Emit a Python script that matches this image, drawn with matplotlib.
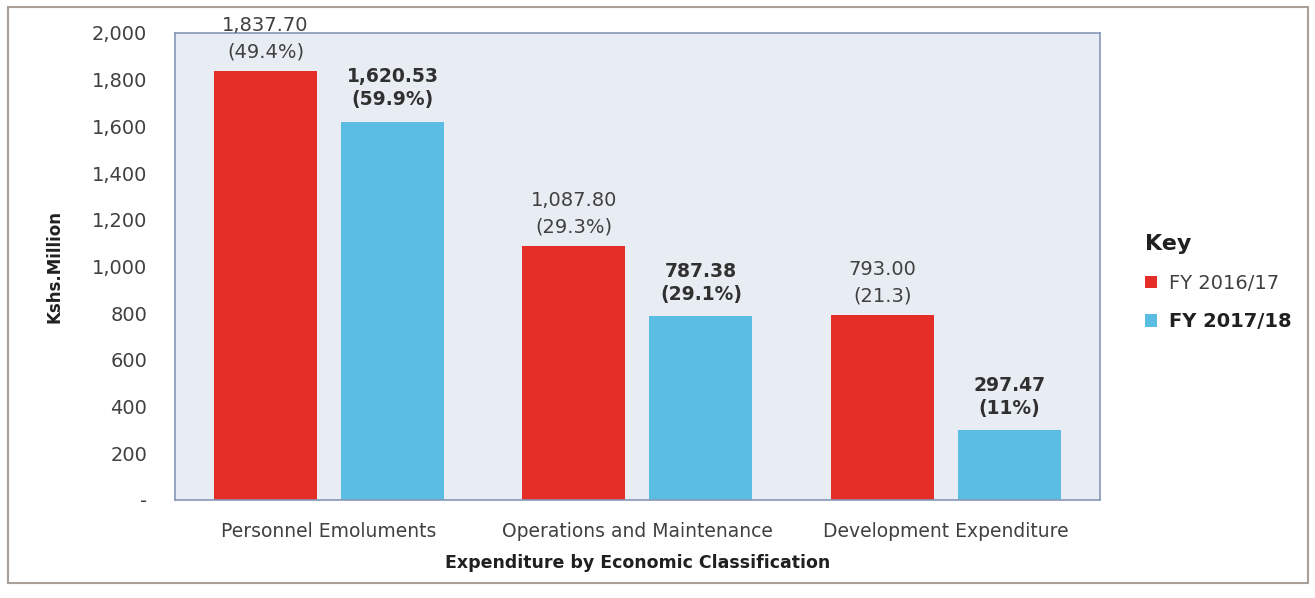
import numpy as np
import matplotlib.pyplot as plt
from matplotlib.patches import Rectangle

categories = ['Personnel Emoluments', 'Operations and Maintenance', 'Development Expenditure']
fy1617 = [1837.70, 1087.80, 793.00]
fy1718 = [1620.53, 787.38, 297.47]
labels_1617 = ['1,837.70\n(49.4%)', '1,087.80\n(29.3%)', '793.00\n(21.3)']
labels_1718 = ['1,620.53\n(59.9%)', '787.38\n(29.1%)', '297.47\n(11%)']
yticks = [0, 200, 400, 600, 800, 1000, 1200, 1400, 1600, 1800, 2000]
ytick_labels = ['-', '200', '400', '600', '800', '1,000', '1,200', '1,400', '1,600', '1,800', '2,000']

red = '#e52d27'
blue = '#5bbde3'
txt = '#404040'
plt.rcParams['font.family'] = ['DejaVu Sans']

fig = plt.figure(figsize=(13.15, 5.98), dpi=100)
ax = fig.add_axes([0.133, 0.164, 0.7035, 0.781])
ax.set_facecolor('#e8edf4')

x = np.arange(len(categories))
w = 0.334
off = 0.206
ax.bar(x - off, fy1617, w, color=red, label='FY 2016/17', zorder=2)
ax.bar(x + off, fy1718, w, color=blue, label='FY 2017/18', zorder=2)

for i in range(len(categories)):
    ax.annotate(labels_1617[i], (x[i] - off, fy1617[i]), xytext=(0, 7),
                textcoords='offset points', ha='center', va='bottom',
                fontsize=14, color=txt, linespacing=1.5)
    ax.annotate(labels_1718[i], (x[i] + off, fy1718[i]), xytext=(0, 9),
                textcoords='offset points', ha='center', va='bottom',
                fontsize=13.5, color='#303030', fontweight='bold', linespacing=1.25)

ax.set_xlim(-0.5, 2.5)
ax.set_ylim(0, 2000)
ax.set_yticks(yticks)
ax.set_yticklabels(ytick_labels, fontsize=14, color=txt)
ax.set_xticks(x)
ax.set_xticklabels(categories, fontsize=13.5, color=txt)
ax.tick_params(length=0)
ax.tick_params(axis='y', pad=20)
ax.tick_params(axis='x', pad=16)
for s in ax.spines.values():
    s.set_color('#8797b8')
    s.set_linewidth(1.2)

ax.set_ylabel('Kshs.Million', fontsize=12, fontweight='bold', color='#202020', labelpad=20)
ax.set_xlabel('Expenditure by Economic Classification', fontsize=12.5, fontweight='bold',
              color='#202020', labelpad=9)

leg = ax.legend(loc='center left', bbox_to_anchor=(1.03, 0.465), frameon=False,
                title='Key', fontsize=14, handlelength=0.6, handleheight=0.6,
                labelspacing=1.0, handletextpad=0.6, labelcolor=txt)
leg.get_title().set_fontsize(16)
leg.get_title().set_fontweight('bold')
leg.get_title().set_color('#202020')
leg._legend_box.align = 'left'
leg.get_texts()[1].set_fontweight('bold')
leg.get_texts()[1].set_color('#202020')

fig.patches.append(Rectangle((8 / 1315, 15 / 598), 1300 / 1315, 576 / 598,
                             transform=fig.transFigure, fill=False,
                             edgecolor='#a8a099', linewidth=1.5))

fig.savefig('out.png', dpi=100)
